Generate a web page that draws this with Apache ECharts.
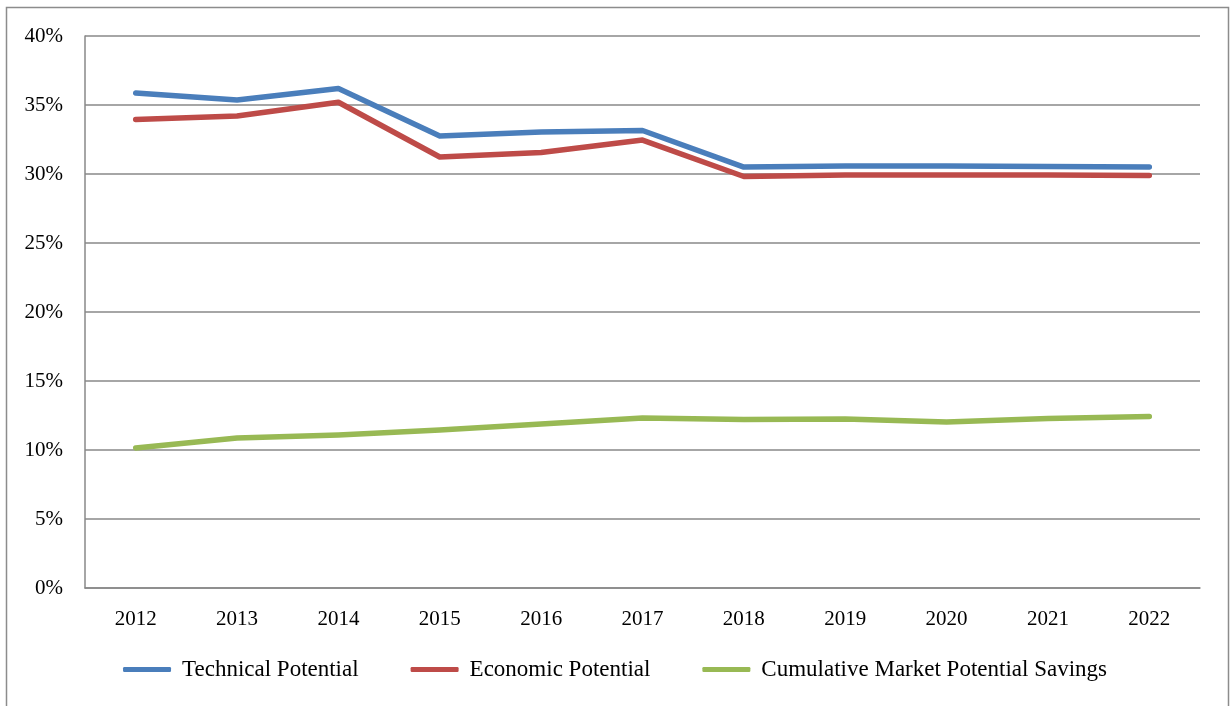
<!DOCTYPE html>
<html><head><meta charset="utf-8">
<script src="https://cdn.jsdelivr.net/npm/echarts@6/dist/echarts.min.js"></script>
<style>html,body{margin:0;padding:0;background:#fff}#c{width:1230px;height:706px}</style>
</head><body><div id="c"></div>
<script>
const years = ['2012','2013','2014','2015','2016','2017','2018','2019','2020','2021','2022'];
const technical = [35.87, 35.36, 36.2, 32.75, 33.04, 33.15, 30.5, 30.58, 30.58, 30.54, 30.5];
const economic = [33.95, 34.2, 35.2, 31.23, 31.56, 32.46, 29.82, 29.93, 29.93, 29.93, 29.89];
const market = [10.14, 10.87, 11.09, 11.45, 11.88, 12.32, 12.21, 12.25, 12.03, 12.28, 12.43];
const seriesNames = ['Technical Potential','Economic Potential','Cumulative Market Potential Savings'];
const colors = ['#4A7EBB','#BE4B48','#98B954'];
const font = '"Liberation Serif", "DejaVu Serif", serif';
const chart = echarts.init(document.getElementById('c'));
const mk = (name, data, color) => ({
  name, type: 'line', data, symbol: 'none', smooth: false,
  lineStyle: { width: 5.5, color, cap: 'round', join: 'round' }, itemStyle: { color }
});
chart.setOption({
  animation: false,
  color: colors,
  textStyle: { fontFamily: font },
  graphic: [{ type: 'rect', shape: { x: 6.5, y: 7.5, width: 1222, height: 720 },
    style: { fill: 'none', stroke: '#8c8c8c', lineWidth: 1.5 }, silent: true }],
  grid: { left: 85, right: 30, top: 36, bottom: 118, containLabel: false },
  legend: {
    bottom: 20, left: 'center', itemWidth: 48, itemHeight: 5, itemGap: 52,
    icon: 'roundRect',
    textStyle: { fontFamily: font, fontSize: 23, color: '#000', padding: [0,0,0,6] },
    data: seriesNames
  },
  xAxis: {
    type: 'category', data: years, boundaryGap: true,
    axisLine: { show: true, lineStyle: { color: '#888', width: 1.5 } },
    axisTick: { show: false },
    axisLabel: { fontFamily: font, fontSize: 21, color: '#000', margin: 21 }
  },
  yAxis: {
    type: 'value', min: 0, max: 40, interval: 5,
    axisLine: { show: true, lineStyle: { color: '#888', width: 1.5 } },
    axisTick: { show: false },
    splitLine: { lineStyle: { color: '#888', width: 1.5 } },
    axisLabel: { fontFamily: font, fontSize: 21, color: '#000', margin: 22, padding: [8,0,0,0], formatter: '{value}%' }
  },
  series: [mk(seriesNames[0], technical, colors[0]), mk(seriesNames[1], economic, colors[1]), mk(seriesNames[2], market, colors[2])]
});
</script></body></html>
